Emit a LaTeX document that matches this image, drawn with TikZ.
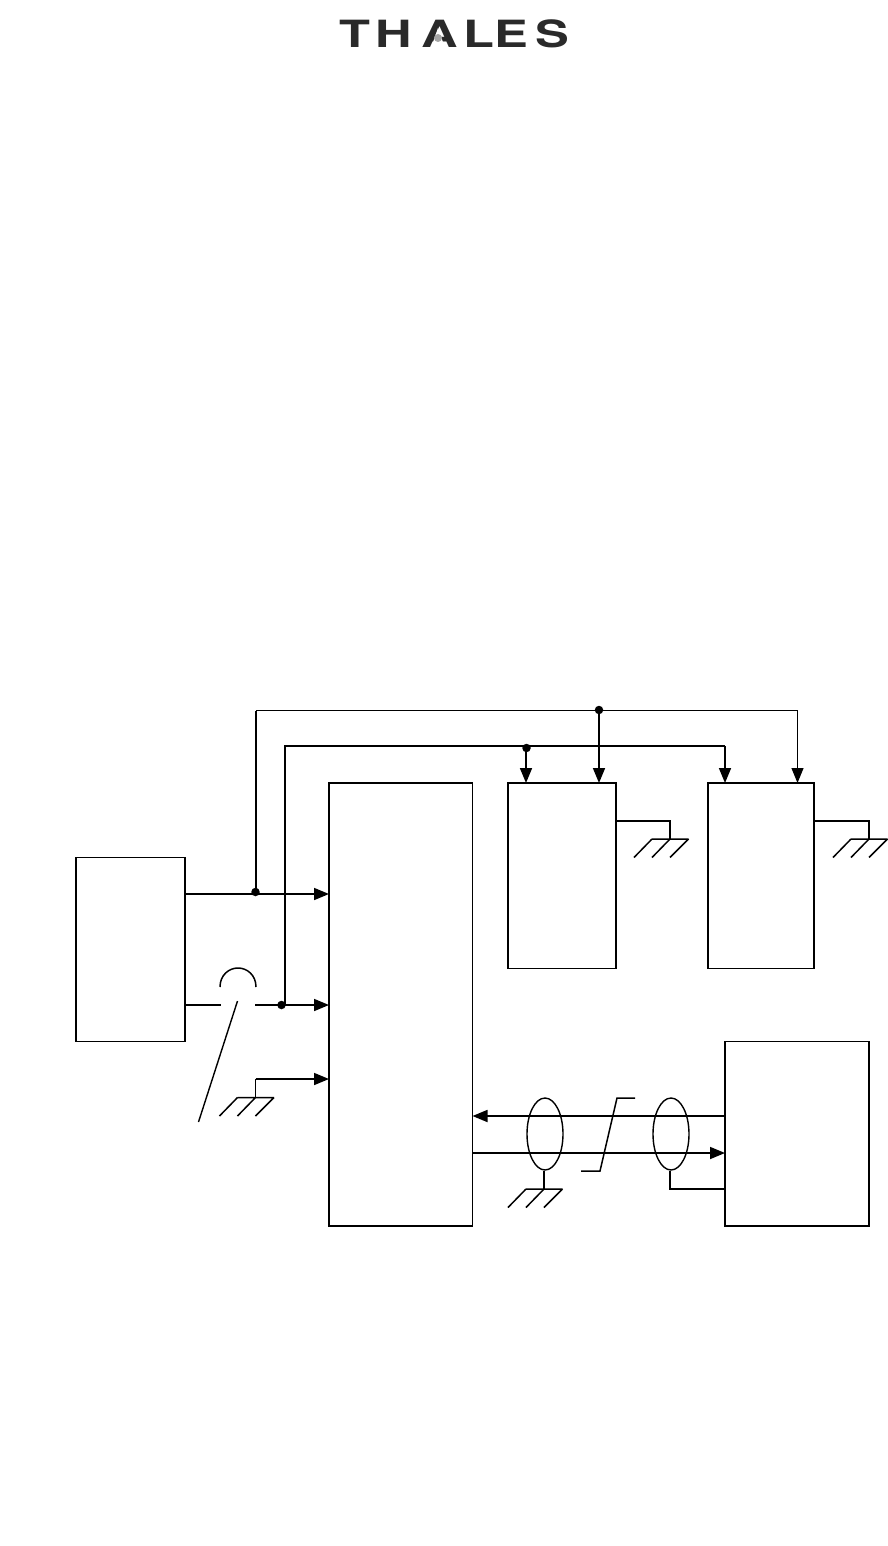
\documentclass[tikz,border=0pt]{standalone}
\usepackage{fontspec}
\setmainfont{TeX Gyre Heros}
\usetikzlibrary{arrows.meta,calc,shapes.geometric}
\tikzset{
  x=1pt,y=-1pt,
  wire/.style={line width=1.7pt,line cap=butt,line join=miter},
  thinwire/.style={line width=1.1pt},
  arr/.style={wire,-{Triangle[length=15pt,width=12pt]}},
  thinarr/.style={thinwire,-{Triangle[length=15pt,width=12pt]}},
  box/.style={draw,line width=1.5pt,inner sep=0pt,outer sep=0pt,minimum width=#1},
  dotn/.style={circle,fill=black,inner sep=0pt,minimum size=8.5pt},
  pt/.style={inner sep=0pt,outer sep=0pt,minimum size=0pt},
  shield/.style={ellipse,draw,line width=1.4pt,inner sep=0pt,minimum width=36pt,minimum height=72pt},
  gnd/.pic={\draw[line width=1.5pt] (-18,0) -- (18.5,0)
     (-18,0) -- (-36,18.5) (0,0) -- (-18,18.5) (18.5,0) -- (0,18.5);}
}
\definecolor{logo}{HTML}{2A2A2A}
\begin{document}
\begin{tikzpicture}
\useasboundingbox (0,0) rectangle (888,1546);
% logo
\node (logo) [pt,text=logo,anchor=center,xscale=1.35] at (454.5,33.5)
  {\fontsize{37.5pt}{37.5pt}\bfseries\addfontfeature{LetterSpace=10.5}TH\kern7pt A\kern3.9pt L\kern0.4pt E\kern5.4pt S};
\fill[white] (438,28) -- (431,48) -- (445,48) -- cycle;
\node (logodot) [circle,fill=gray!70,inner sep=0pt,minimum size=8pt] at (438,38) {};
% boxes
\node (src) [box=109pt,minimum height=184pt] at (130.5,949.5) {};
\node (main) [box=143.5pt,minimum height=443pt] at (400.75,1004.5) {};
\node (bA) [box=108pt,minimum height=185.5pt] at (562,875.75) {};
\node (bB) [box=106pt,minimum height=185.5pt] at (761,875.75) {};
\node (bC) [box=144pt,minimum height=184.5pt] at (797,1133.75) {};
% junctions
\node (j1) [dotn] at (255.5,892) {};
\node (j2) [dotn] at (281.5,1005) {};
\node (j3) [dotn] at (599,710) {};
\node (j4) [dotn] at (526.5,748) {};
\coordinate (c1) at (256,710.5);
\coordinate (c2) at (797.5,710.5);
\coordinate (c3) at (285,746);
\coordinate (c4) at (725,746);
\coordinate (l1) at (185,894);
\coordinate (l2) at (185,1005);
\coordinate (l2a) at (221,1005);
\coordinate (l2b) at (255,1005);
% top buses
\draw[wire] (c1 |- j1) -- (c1);
\draw[thinwire] (c1) -- (c2);
\draw[thinarr] (c2) -- (c2 |- bB.north);
\draw[arr] (j3) -- (j3 |- bA.north);
\draw[wire] (c3 |- j2) -- (c3) -- (c4);
\draw[arr] (c4) -- (c4 |- bB.north);
\draw[arr] (j4.center -| 526,0) -- (526,783);
% left inputs
\draw[arr] (l1) -- (l1 -| main.west);
\draw[wire] (l2) -- (l2a);
\draw[arr] (l2b) -- (l2b -| main.west);
% switch
\coordinate (s1) at (237.5,1001);
\coordinate (s2) at (198.5,1122);
\draw[line width=1.4pt] (s1) -- (s2);
\draw[line width=1.5pt] (220,987) .. controls (220,975) and (229,968) .. (238,968)
   .. controls (247,968) and (256,975) .. (256,987);
% ground input
\coordinate (g1) at (255.5,1097.5);
\coordinate (g1t) at (255.5,1079);
\draw[wire] (g1) -- (g1t);
\draw[arr] (g1t) -- (g1t -| main.west);
\pic at (g1) {gnd};
% grounds on boxes
\coordinate (g2) at (670,839);
\coordinate (g2t) at (670,821);
\draw[wire] (g2t -| bA.east) -- (g2t) -- (g2);
\pic at (g2) {gnd};
\coordinate (g3) at (869,839);
\coordinate (g3t) at (869,821);
\draw[wire] (g3t -| bB.east) -- (g3t) -- (g3);
\pic at (g3) {gnd};
% cable
\coordinate (k1) at (600,1116);
\coordinate (k2) at (600,1153);
\draw[arr] (k1 -| bC.west) -- (k1 -| main.east);
\draw[arr] (k2 -| main.east) -- (k2 -| bC.west);
\node (sh1) [shield] at (545,1134) {};
\node (sh2) [shield] at (671,1134) {};
\coordinate (g4) at (544,1189);
\draw[wire] (sh1.south -| g4) -- (g4);
\pic at (g4) {gnd};
\coordinate (g5) at (670,1189);
\draw[wire] (sh2.south -| g5) -- (g5) -- (g5 -| bC.west);
\coordinate (z1) at (581,1171);
\coordinate (z2) at (600,1171);
\coordinate (z3) at (617,1098);
\coordinate (z4) at (635,1098);
\draw[line width=1.5pt] (z1) -- (z2) -- (z3) -- (z4);
\end{tikzpicture}
\end{document}
